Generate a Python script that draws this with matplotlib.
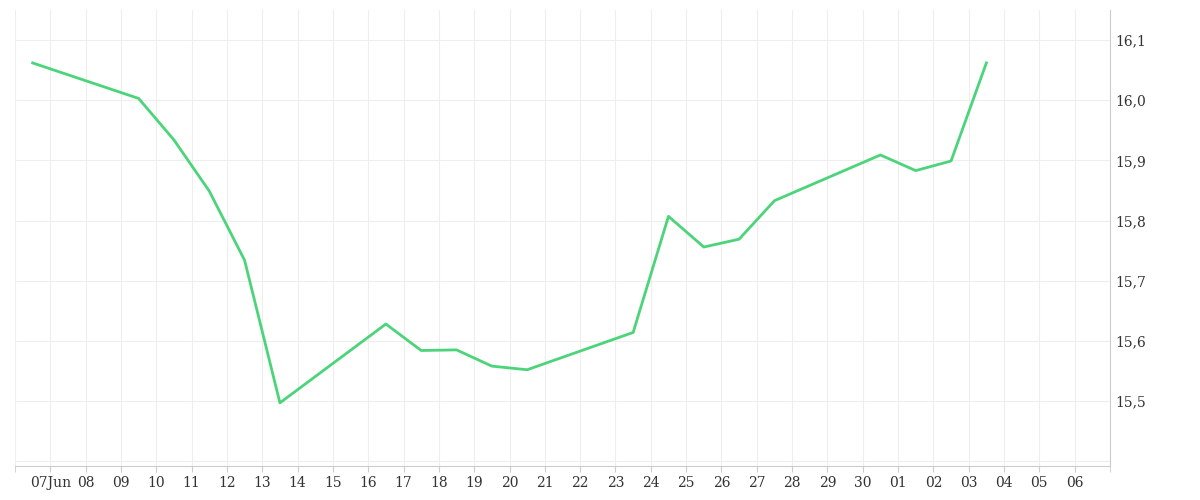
import matplotlib
matplotlib.use("Agg")
import matplotlib.pyplot as plt
import numpy as np

days = [-0.5, 2.5, 3.5, 4.5, 5.5, 6.5, 9.5, 10.5, 11.5, 12.5, 13.5, 16.5, 17.5, 18.5, 19.5, 20.5, 23.5, 24.5, 25.5, 26.5]
values = [16.062, 16.003, 15.934, 15.849, 15.734, 15.497, 15.628, 15.584, 15.585, 15.558, 15.552, 15.614, 15.807, 15.756, 15.769, 15.833, 15.909, 15.883, 15.899, 16.062]
tick_labels = ["07Jun"] + ["%02d" % d for d in range(8, 31)] + ["%02d" % d for d in range(1, 7)]

fig = plt.figure(figsize=(12, 5), dpi=100)
ax = fig.add_axes([15/1200, 34/500, 1095/1200, 456/500])
ax.plot(days, values, color="#4cd47a", lw=2)
ax.set_xlim(-1, 30)
ax.set_ylim(15.392, 16.15)
ax.set_xticks(range(0, 30))
ax.set_xticklabels(tick_labels, fontsize=10, color="#333333", family="DejaVu Serif")
ax.set_xticks([-1, 30], minor=True)
ax.set_yticks([15.5, 15.6, 15.7, 15.8, 15.9, 16.0, 16.1])
ax.set_yticklabels(["15,5", "15,6", "15,7", "15,8", "15,9", "16,0", "16,1"], fontsize=10, color="#333333", family="DejaVu Serif")
ax.set_yticks([15.4], minor=True)
ax.yaxis.tick_right()
ax.grid(True, which="both", color="#eeeeee", lw=0.8)
ax.tick_params(which="both", length=0)
ax.tick_params(axis="x", which="both", length=4, color="#cccccc")
for s in ["top", "left"]:
    ax.spines[s].set_visible(False)
ax.spines["bottom"].set_color("#cccccc")
ax.spines["right"].set_color("#cccccc")
fig.savefig("out.png")
